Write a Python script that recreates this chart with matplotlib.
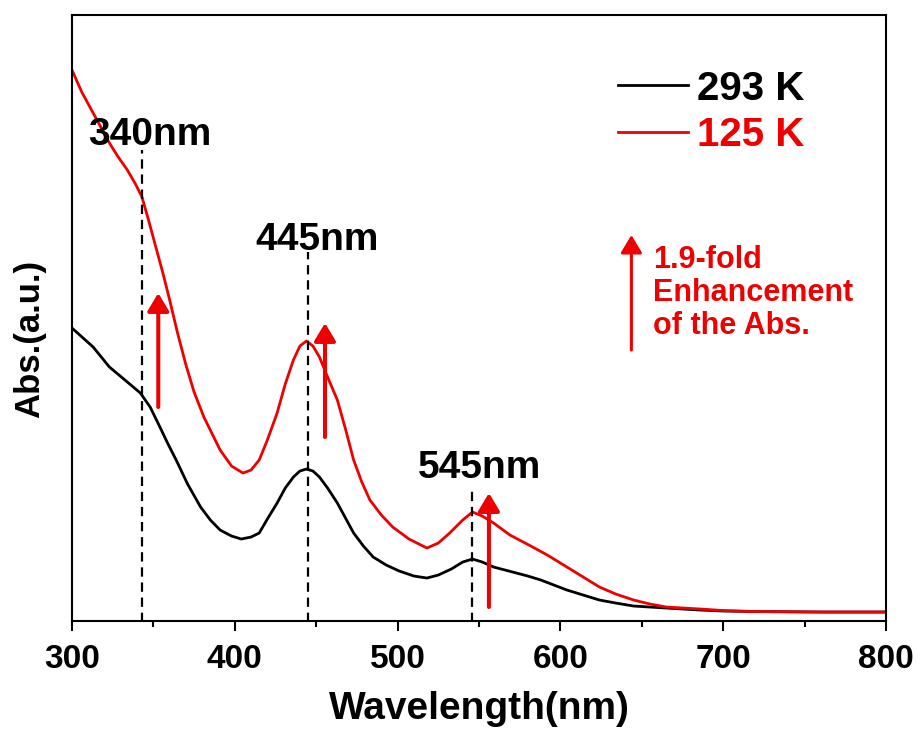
import matplotlib
matplotlib.use("Agg")
import matplotlib.pyplot as plt
from matplotlib.lines import Line2D

plt.rcParams['font.family'] = ['Liberation Sans', 'DejaVu Sans']
plt.rcParams['font.weight'] = 'bold'

RED = '#ee0000'

# Absorbance spectra (arbitrary units)
wl_293 = [300, 313, 323, 334, 342, 348, 354, 359, 364, 371, 379, 385, 391, 398,
          404, 410, 415, 420, 426, 431, 436, 440, 444, 448, 452, 457, 463, 468,
          473, 479, 485, 493, 501, 510, 518, 525, 533, 540, 546, 552, 559, 566,
          573, 580, 588, 596, 604, 614, 624, 634, 645, 655, 665, 686, 700, 720,
          760, 800]
abs_293 = [2.94, 2.75, 2.55, 2.40, 2.29, 2.15, 1.95, 1.78, 1.62, 1.38, 1.15, 1.02,
           0.92, 0.86, 0.83, 0.85, 0.89, 1.03, 1.19, 1.34, 1.45, 1.51, 1.53, 1.51,
           1.45, 1.34, 1.19, 1.04, 0.89, 0.76, 0.65, 0.57, 0.51, 0.46, 0.44, 0.47,
           0.53, 0.60, 0.63, 0.60, 0.55, 0.52, 0.49, 0.46, 0.42, 0.37, 0.32, 0.27,
           0.22, 0.19, 0.16, 0.15, 0.14, 0.12, 0.11, 0.105, 0.10, 0.10]

wl_125 = [300, 306, 313, 318, 323, 328, 334, 339, 343, 347, 352, 356, 360, 365,
          370, 375, 381, 391, 398, 405, 410, 415, 420, 426, 431, 436, 440, 444,
          448, 452, 457, 463, 468, 473, 478, 483, 490, 497, 507, 518, 525, 532,
          540, 546, 552, 559, 564, 569, 576, 583, 593, 604, 614, 624, 634, 645,
          655, 665, 686, 700, 720, 760, 800]
abs_125 = [5.52, 5.30, 5.09, 4.94, 4.79, 4.66, 4.52, 4.38, 4.25, 4.02, 3.72, 3.48,
           3.22, 2.88, 2.57, 2.30, 2.05, 1.72, 1.56, 1.49, 1.52, 1.62, 1.82, 2.09,
           2.38, 2.62, 2.76, 2.81, 2.76, 2.65, 2.45, 2.22, 1.93, 1.62, 1.40, 1.22,
           1.07, 0.95, 0.83, 0.74, 0.79, 0.89, 1.02, 1.10, 1.06, 0.99, 0.93, 0.87,
           0.81, 0.75, 0.66, 0.55, 0.45, 0.35, 0.28, 0.22, 0.18, 0.15, 0.13, 0.115,
           0.105, 0.10, 0.10]

series_labels = ['293 K', '125 K']

# Peak markers
peak_wl = [343, 445, 546]
peak_top = [4.72, 3.70, 1.35]
peak_labels = ['340nm', '445nm', '545nm']
peak_label_x = [347.8, 450.4, 550.6]
peak_label_y = [4.77, 3.72, 1.44]

# Enhancement arrows: (x, tail, tip)
arrow_x = [353, 455.4, 556.1]
arrow_tail = [2.15, 1.85, 0.15]
arrow_tip = [3.29, 2.99, 1.29]

note_arrow_x = 643.6
note_arrow_tail = 2.72
note_arrow_tip = 3.87
note_text = '1.9-fold\nEnhancement\nof the Abs.'

xticks = [300, 400, 500, 600, 700, 800]
minor_xticks = [350, 450, 550, 650, 750]

fig = plt.figure(figsize=(9.17, 7.29), dpi=100)
ax = fig.add_axes([0.0785, 0.1481, 0.8877, 0.8313])

ax.plot(wl_293, abs_293, color='black', lw=2.0, solid_joinstyle='round')
ax.plot(wl_125, abs_125, color=RED, lw=2.0, solid_joinstyle='round')

for x, top, lab, lx, ly in zip(peak_wl, peak_top, peak_labels, peak_label_x, peak_label_y):
    ax.plot([x, x], [0.0, top], color='black', lw=1.6, linestyle=(0, (4.2, 2.6)))
    ax.text(lx, ly, lab, fontsize=28, fontweight='bold', ha='center', va='baseline')

arrow_style = dict(arrowstyle='-|>,head_length=0.6,head_width=0.36', color=RED,
                   lw=2.9, mutation_scale=18, shrinkA=0, shrinkB=0)
for x, t0, t1 in zip(arrow_x, arrow_tail, arrow_tip):
    ax.annotate('', xy=(x, t1), xytext=(x, t0), arrowprops=arrow_style)

ax.annotate('', xy=(note_arrow_x, note_arrow_tip), xytext=(note_arrow_x, note_arrow_tail),
            arrowprops=dict(arrowstyle='-|>,head_length=0.6,head_width=0.36', color=RED,
                            lw=2.2, mutation_scale=18, shrinkA=0, shrinkB=0))
ax.text(656.9, 2.88, note_text, color=RED, fontsize=22, fontweight='bold',
        ha='left', va='baseline', linespacing=1.13)

handles = [Line2D([], [], color='black', lw=2.0), Line2D([], [], color=RED, lw=2.0)]
leg = ax.legend(handles, series_labels, loc='upper left', bbox_to_anchor=(0.671, 0.910),
                frameon=False, fontsize=29, handlelength=1.74, handletextpad=0.22,
                labelspacing=0.22, borderpad=0, borderaxespad=0)
for txt, c in zip(leg.get_texts(), ['black', RED]):
    txt.set_color(c)
    txt.set_fontweight('bold')

ax.set_xlim(300, 800)
ax.set_ylim(0.01, 6.07)
ax.set_xticks(xticks)
ax.set_xticks(minor_xticks, minor=True)
ax.set_yticks([])
ax.tick_params(axis='x', which='major', direction='out', length=7.2, width=1.5,
               labelsize=24, pad=9.5, top=False)
ax.tick_params(axis='x', which='minor', direction='out', length=4.3, width=1.5, top=False)
for lab in ax.get_xticklabels():
    lab.set_fontweight('bold')
for s in ax.spines.values():
    s.set_linewidth(1.5)

ax.set_xlabel('Wavelength(nm)', fontsize=28, fontweight='bold', labelpad=11)
ax.set_ylabel('Abs.(a.u.)', fontsize=25, fontweight='bold')
ax.yaxis.set_label_coords(-0.032, 0.465)

fig.savefig('out.png', dpi=100)
